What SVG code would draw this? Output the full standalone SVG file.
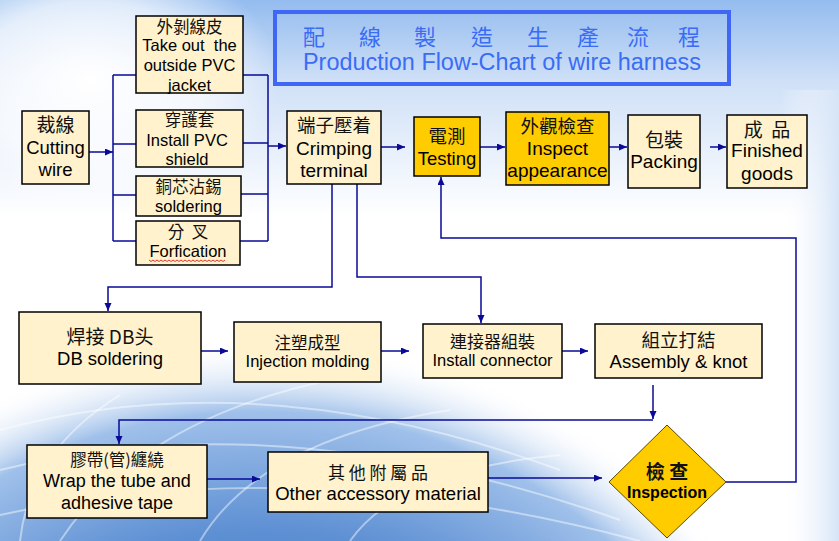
<svg xmlns="http://www.w3.org/2000/svg" width="839" height="541" viewBox="0 0 839 541">
<style>
.bx{fill:#fff2cc;stroke:#000;stroke-width:1.5}
.yb{fill:#ffcc00;stroke:#000;stroke-width:1.5}
.t{font-family:"Liberation Sans","Noto Sans CJK TC",sans-serif;fill:#000;text-anchor:middle}
.c{font-family:"Noto Sans CJK TC","Liberation Sans",sans-serif;fill:#111;text-anchor:middle}
.ln{fill:none;stroke:#0a0a96;stroke-width:1.5}
.ar{marker-end:url(#ah)}
</style>
<defs>
<marker id="ah" markerUnits="userSpaceOnUse" markerWidth="9" markerHeight="8" refX="8" refY="3.5" orient="auto">
<path d="M0,0 L8,3.5 L0,7 z" fill="#0a0a96"/>
</marker>
<linearGradient id="sky" x1="0" y1="0" x2="0" y2="1">
<stop offset="0" stop-color="#94bcef"/>
<stop offset="0.15" stop-color="#cfe0f7"/>
<stop offset="0.4" stop-color="#ffffff"/>
<stop offset="1" stop-color="#ffffff"/>
</linearGradient>
<radialGradient id="cloud" cx="0.5" cy="0.5" r="0.5">
<stop offset="0" stop-color="#ffffff" stop-opacity="1"/>
<stop offset="0.6" stop-color="#ffffff" stop-opacity="0.7"/>
<stop offset="1" stop-color="#ffffff" stop-opacity="0"/>
</radialGradient>
<radialGradient id="globe" cx="0.5" cy="0.5" r="0.5">
<stop offset="0" stop-color="#2f63b8"/>
<stop offset="0.6" stop-color="#5d8fd3"/>
<stop offset="0.85" stop-color="#9fc0ea"/>
<stop offset="1" stop-color="#ffffff" stop-opacity="0"/>
</radialGradient>
<linearGradient id="rstrip" x1="0" y1="0" x2="1" y2="0">
<stop offset="0" stop-color="#ffffff" stop-opacity="0"/>
<stop offset="1" stop-color="#d5e4f7"/>
</linearGradient>
</defs>

<g id="background">
<rect x="0" y="0" width="839" height="541" fill="url(#sky)"/>
<ellipse cx="90" cy="80" rx="190" ry="130" fill="url(#cloud)"/>
<rect x="780" y="90" width="59" height="451" fill="url(#rstrip)"/>
<ellipse cx="260" cy="820" rx="560" ry="480" fill="url(#globe)"/>
<g fill="none" stroke="#ffffff" stroke-opacity="0.45" stroke-width="2">
<path d="M0,430 Q260,360 560,470"/>
<path d="M0,470 Q280,400 620,520"/>
<path d="M0,515 Q300,450 640,541"/>
<path d="M60,541 Q140,420 330,380"/>
<path d="M200,541 Q260,440 450,410"/>
<path d="M350,541 Q400,470 560,455"/>
<path d="M20,541 Q30,450 120,395"/>
</g>
</g>

<g id="title">
<rect x="275" y="12" width="454" height="72" fill="none" stroke="#3f66f5" stroke-width="4"/>
<text font-family="'Noto Sans CJK TC','Liberation Sans',sans-serif" font-size="22" fill="#3a6cf5" y="45" x="303 359 414 471 527 577 627 678">配線製造生產流程</text>
<text font-family="'Liberation Sans',sans-serif" font-size="23.5" fill="#3a6cf5" x="303" y="70" textLength="398" lengthAdjust="spacingAndGlyphs">Production Flow-Chart of wire harness</text>
</g>

<g id="connectors">
<path class="ln ar" d="M89,152 H113"/>
<path class="ln" d="M113,75 V241 M113,75 H136 M113,144 H136 M113,195 H136 M113,241 H136"/>
<path class="ln" d="M243,75 H268 M243,143 H268 M241,194 H268 M240,241 H268 M268,75 V241"/>
<path class="ln ar" d="M268,146 H286"/>
<path class="ln ar" d="M381,147 H405"/>
<path class="ln ar" d="M480,147 H505"/>
<path class="ln ar" d="M609,147 H627"/>
<path class="ln ar" d="M710,147 H726"/>
<path class="ln ar" d="M332,184 V287 H108 V311"/>
<path class="ln ar" d="M357,184 V277 H481 V323"/>
<path class="ln ar" d="M199,351 H228"/>
<path class="ln ar" d="M381,351 H409"/>
<path class="ln ar" d="M561,351 H588"/>
<path class="ln ar" d="M653,385 V419"/>
<path class="ln ar" d="M653,420 H119 V444"/>
<path class="ln ar" d="M207,479 H260"/>
<path class="ln ar" d="M488,478 H602"/>
<path class="ln ar" d="M726,482 H796 V238 H441 V177"/>
</g>

<g id="n-cutting">
<rect class="bx" x="22" y="111" width="67" height="73"/>
<text class="c" x="55.5" y="132" font-size="19">裁線</text>
<text class="t" x="55.5" y="154" font-size="18.5">Cutting</text>
<text class="t" x="55.5" y="176" font-size="18.5">wire</text>
</g>

<g id="n-takeout">
<rect class="bx" x="136" y="16" width="107" height="77"/>
<text class="c" x="189.5" y="33" font-size="16.5">外剝線皮</text>
<text class="t" x="189.5" y="51" font-size="16.5" xml:space="preserve">Take out  the</text>
<text class="t" x="189.5" y="71" font-size="16.5">outside PVC</text>
<text class="t" x="189.5" y="91" font-size="16.5">jacket</text>
</g>

<g id="n-install-pvc">
<rect class="bx" x="136" y="110" width="107" height="57"/>
<text class="c" x="189.5" y="126" font-size="16.5">穿護套</text>
<text class="t" x="187" y="146" font-size="16.5">Install PVC</text>
<text class="t" x="187" y="165" font-size="16.5">shield</text>
</g>

<g id="n-soldering">
<rect class="bx" x="136" y="176" width="105" height="40"/>
<text class="c" x="188.5" y="193" font-size="16.5">銅芯沾錫</text>
<text class="t" x="188.5" y="212" font-size="16.5">soldering</text>
</g>

<g id="n-forfication">
<rect class="bx" x="136" y="221" width="104" height="44"/>
<text class="c" x="188" y="238" font-size="16.5" xml:space="preserve">分  叉</text>
<text class="t" x="188" y="257" font-size="16.5">Forfication</text>
<path d="M149,260 l2,1.5 l2,-1.5 l2,1.5 l2,-1.5 l2,1.5 l2,-1.5 l2,1.5 l2,-1.5 l2,1.5 l2,-1.5 l2,1.5 l2,-1.5 l2,1.5 l2,-1.5 l2,1.5 l2,-1.5 l2,1.5 l2,-1.5 l2,1.5 l2,-1.5 l2,1.5 l2,-1.5 l2,1.5 l2,-1.5 l2,1.5 l2,-1.5 l2,1.5 l2,-1.5 l2,1.5 l2,-1.5 l2,1.5 l2,-1.5 l2,1.5 l2,-1.5 l2,1.5 l2,-1.5 l2,1.5 l2,-1.5" fill="none" stroke="#e02020" stroke-width="0.9"/>
</g>

<g id="n-crimping">
<rect class="bx" x="287" y="111" width="94" height="73"/>
<text class="c" x="334" y="132" font-size="18.5">端子壓着</text>
<text class="t" x="334" y="155" font-size="19">Crimping</text>
<text class="t" x="334" y="177" font-size="19">terminal</text>
</g>

<g id="n-testing">
<rect class="yb" x="414" y="117" width="66" height="59"/>
<text class="c" x="447" y="143" font-size="18.5">電測</text>
<text class="t" x="447" y="165" font-size="18.5">Testing</text>
</g>

<g id="n-inspect">
<rect class="yb" x="506" y="112" width="103" height="73"/>
<text class="c" x="557.5" y="133" font-size="18.5">外觀檢查</text>
<text class="t" x="557.5" y="155" font-size="19">Inspect</text>
<text class="t" x="557.5" y="177" font-size="19">appearance</text>
</g>

<g id="n-packing">
<rect class="bx" x="628" y="115" width="72" height="73"/>
<text class="c" x="664" y="147" font-size="19">包裝</text>
<text class="t" x="664" y="168" font-size="19">Packing</text>
</g>

<g id="n-finished">
<rect class="bx" x="727" y="115" width="80" height="73"/>
<text class="c" x="767" y="137" font-size="19" xml:space="preserve">成  品</text>
<text class="t" x="767" y="157" font-size="19">Finished</text>
<text class="t" x="767" y="180" font-size="19">goods</text>
</g>

<g id="n-db">
<rect class="bx" x="19" y="312" width="182" height="72"/>
<text class="c" x="110" y="344" font-size="19">焊接 DB头</text>
<text class="t" x="110" y="365" font-size="18.5">DB soldering</text>
</g>

<g id="n-injection">
<rect class="bx" x="234" y="322" width="147" height="60"/>
<text class="c" x="307.5" y="349" font-size="16.5">注塑成型</text>
<text class="t" x="307.5" y="367" font-size="16.5">Injection molding</text>
</g>

<g id="n-connector">
<rect class="bx" x="423" y="324" width="139" height="54"/>
<text class="c" x="492.5" y="348" font-size="17">連接器組裝</text>
<text class="t" x="492.5" y="366" font-size="16.5">Install connector</text>
</g>

<g id="n-assembly">
<rect class="bx" x="595" y="324" width="167" height="54"/>
<text class="c" x="678.5" y="347" font-size="18.5">組立打結</text>
<text class="t" x="678.5" y="368" font-size="18.5">Assembly &amp; knot</text>
</g>

<g id="n-wrap">
<rect class="bx" x="27" y="445" width="180" height="73"/>
<text class="c" x="117" y="466" font-size="16.5">膠帶(管)纏繞</text>
<text class="t" x="117" y="487" font-size="18">Wrap the tube and</text>
<text class="t" x="117" y="509" font-size="18">adhesive tape</text>
</g>

<g id="n-other">
<rect class="bx" x="268" y="452" width="220" height="60"/>
<text class="c" x="378" y="479" font-size="17" xml:space="preserve">其 他 附 屬 品</text>
<text class="t" x="378" y="500" font-size="18.5">Other accessory material</text>
</g>

<g id="n-inspection">
<polygon points="667,425 726,482 667,538 609,482" fill="#ffcc00" stroke="#5a4a00" stroke-width="1"/>
<text class="c" x="667" y="479" font-size="19" font-weight="bold" xml:space="preserve">檢 查</text>
<text class="t" x="667" y="498" font-size="16" font-weight="bold">Inspection</text>
</g>
</svg>
